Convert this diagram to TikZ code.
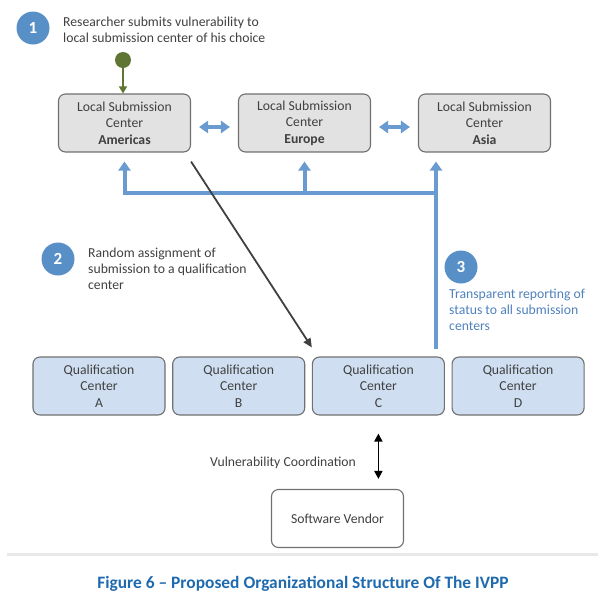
\documentclass[tikz,border=0pt]{standalone}
\usepackage{fontspec}
\setmainfont{Carlito}
\usepackage{tikz}
\usetikzlibrary{shapes.geometric, arrows.meta}
\definecolor{textgray}{RGB}{64,64,64}
\definecolor{boxgray}{RGB}{112,112,112}
\definecolor{localfill}{RGB}{226,226,226}
\definecolor{qualfill}{RGB}{207,223,241}
\definecolor{stepblue}{RGB}{88,143,199}
\definecolor{arrowblue}{RGB}{106,155,208}
\definecolor{noteblue}{RGB}{79,129,189}
\definecolor{captionblue}{RGB}{31,106,174}
\definecolor{dotgreen}{RGB}{94,117,52}
\definecolor{sepgray}{RGB}{232,232,232}
\tikzstyle{localbox} = [rectangle, rounded corners=7pt, minimum width=132pt, minimum height=58pt, text centered, align=center, draw=boxgray, line width=1.1pt, fill=localfill, text=textgray, font=\fontsize{13.7}{16.5}\selectfont]
\tikzstyle{qualbox} = [localbox, fill=qualfill]
\tikzstyle{vendorbox} = [localbox, fill=white]
\tikzstyle{stepnum} = [circle, minimum size=33pt, inner sep=0pt, fill=stepblue, text=white, font=\bfseries\fontsize{17}{17}\selectfont]
\tikzstyle{note} = [anchor=west, align=left, inner sep=0pt, text=textgray, font=\fontsize{13.7}{16.2}\selectfont]
\tikzstyle{arrow} = [line width=1.8pt, draw=textgray, -{Triangle[length=9pt,width=8pt]}]
\tikzstyle{dblarrow} = [line width=1.8pt, draw=black, {Triangle[length=8pt,width=8pt]}-{Triangle[length=8pt,width=8pt]}]
\tikzstyle{greenarrow} = [line width=1.6pt, draw=dotgreen, -{Triangle[length=7pt,width=8pt]}]
\tikzstyle{bluearrow} = [line width=4pt, draw=arrowblue, -{Triangle[length=9pt,width=12pt]}]
\tikzstyle{bluedbl} = [line width=4pt, draw=arrowblue, {Triangle[length=9pt,width=12pt]}-{Triangle[length=9pt,width=12pt]}]

\begin{document}
\begin{tikzpicture}[x=1pt, y=-1pt, node distance=180pt]
		\useasboundingbox (0,0) rectangle (600,598);

		\node (s1) [stepnum] at (33,28) {1};
		\node (n1) [note] at (63,30) {Researcher submits vulnerability to\\local submission center of his choice};
		\node (dot) [circle, fill=dotgreen, minimum size=16pt, inner sep=0pt] at (123,60) {};

		\node (lsa) [localbox] at (124.5,123) {Local Submission\\Center\\\textbf{Americas}};
		\node (lse) [localbox, right of=lsa] {Local Submission\\Center\\\textbf{Europe}};
		\node (lsc) [localbox, right of=lse] {Local Submission\\Center\\\textbf{Asia}};

		\node (s2) [stepnum] at (58,259) {2};
		\node (n2) [note] at (88,269) {Random assignment of\\submission to a qualification\\center};
		\node (s3) [stepnum] at (461,267) {3};
		\node (n3) [note, text=noteblue] at (449,310) {Transparent reporting of\\status to all submission\\centers};

		\node (qa) [qualbox] at (99,386) {Qualification\\Center\\A};
		\node (qb) [qualbox, node distance=139.7pt, right of=qa] {Qualification\\Center\\B};
		\node (qc) [qualbox, node distance=139.7pt, right of=qb] {Qualification\\Center\\C};
		\node (qd) [qualbox, node distance=139.7pt, right of=qc] {Qualification\\Center\\D};

		\node (sv) [vendorbox] at (337.5,518.5) {Software Vendor};
		\node (vclabel) [note] at (210,463) {Vulnerability Coordination};
		\node (caption) [font=\bfseries\fontsize{17.4}{19}\selectfont, text=captionblue] at (303,584) {Figure 6 – Proposed Organizational Structure Of The IVPP};

		\coordinate (rep) at (436,349);
		\coordinate (bus) at (436,192.5);

		\draw [greenarrow] (dot) -- (dot |- lsa.north);
		\draw [bluedbl, shorten <=8pt, shorten >=8pt] ([yshift=-4pt]lsa.east) -- ([yshift=-4pt]lse.west);
		\draw [bluedbl, shorten <=8pt, shorten >=8pt] ([yshift=-4pt]lse.east) -- ([yshift=-4pt]lsc.west);
		\draw [bluearrow, shorten >=9pt] (rep) -- (rep |- lsc.south);
		\draw [bluearrow, shorten >=9pt] (bus) -| (lsa.south);
		\draw [bluearrow, shorten >=9pt] (bus -| lse.south) -- (lse.south);
		\draw [arrow] ([yshift=-9pt]lsa.south east) -- ([yshift=9pt]qc.north west);
		\draw [dblarrow, shorten <=18pt, shorten >=10pt] (qc.south) -- (qc.south |- sv.north);
		\draw [line width=3pt, sepgray] (7,554) -- (598,554);

		\end{tikzpicture}
\end{document}
